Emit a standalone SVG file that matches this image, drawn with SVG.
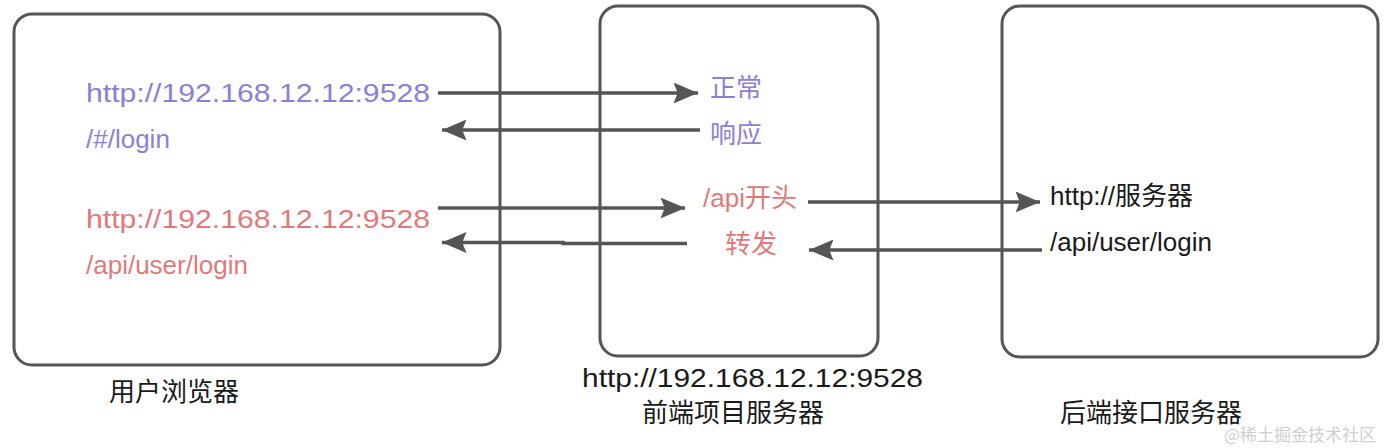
<svg xmlns="http://www.w3.org/2000/svg" width="1394" height="448" viewBox="0 0 1394 448">
<defs>
<style>
.box{fill:#fff;stroke:#555;stroke-width:3}
.ln{stroke:#555;stroke-width:3.5;fill:none}
.t{font-family:"Liberation Sans","Noto Sans CJK SC",sans-serif;font-size:26px}
.p{fill:#8D7FD6}
.r{fill:#E07A7A}
.k{fill:#1a1a1a}
</style>
<marker id="ah" markerWidth="8" markerHeight="6" refX="7" refY="3" orient="auto" markerUnits="strokeWidth">
<path d="M0,0 L7,3 L0,6 L1.2,3 Z" fill="#555"/>
</marker>
</defs>
<rect width="1394" height="448" fill="#fff"/>
<g id="browser">
<rect class="box" x="14" y="14" width="486" height="351" rx="18"/>
<text class="t p" x="86" y="102" font-size="28" textLength="344" lengthAdjust="spacingAndGlyphs">http://192.168.12.12:9528</text>
<text class="t p" x="86" y="148" font-size="28">/#/login</text>
<text class="t r" x="86" y="228" font-size="28" textLength="344" lengthAdjust="spacingAndGlyphs">http://192.168.12.12:9528</text>
<text class="t r" x="86" y="274" font-size="28">/api/user/login</text>
<text class="t k" x="109" y="401" font-size="27.5">用户浏览器</text>
</g>
<g id="frontend">
<rect class="box" x="600" y="6" width="278" height="350" rx="18"/>
<text class="t p" x="710" y="97">正常</text>
<text class="t p" x="710" y="143">响应</text>
<text class="t r" x="703" y="207">/api开头</text>
<text class="t r" x="725" y="253">转发</text>
<text class="t k" x="582" y="387" font-size="27" textLength="341" lengthAdjust="spacingAndGlyphs">http://192.168.12.12:9528</text>
<text class="t k" x="642" y="422" font-size="27">前端项目服务器</text>
</g>
<g id="backend">
<rect class="box" x="1002" y="6" width="376" height="351" rx="18"/>
<text class="t k" x="1050" y="205" font-size="27.5">http://服务器</text>
<text class="t k" x="1050" y="251" font-size="28">/api/user/login</text>
<text class="t k" x="1060" y="422" font-size="27">后端接口服务器</text>
</g>
<g id="connectors">
<line class="ln" x1="438" y1="93" x2="698" y2="93" marker-end="url(#ah)"/>
<line class="ln" x1="700" y1="130" x2="442" y2="130" marker-end="url(#ah)"/>
<line class="ln" x1="438" y1="208" x2="685" y2="208" marker-end="url(#ah)"/>
<polyline class="ln" points="687,243.5 563,243.5 563,242.5 442,242.5" marker-end="url(#ah)"/>
<line class="ln" x1="808" y1="202" x2="1040" y2="202" marker-end="url(#ah)"/>
<line class="ln" x1="1042" y1="250" x2="809" y2="250" marker-end="url(#ah)"/>
</g>
<text x="1224" y="441" font-family="'Noto Sans CJK SC',sans-serif" font-size="17" fill="#d0d0d0">@稀土掘金技术社区</text>
</svg>
